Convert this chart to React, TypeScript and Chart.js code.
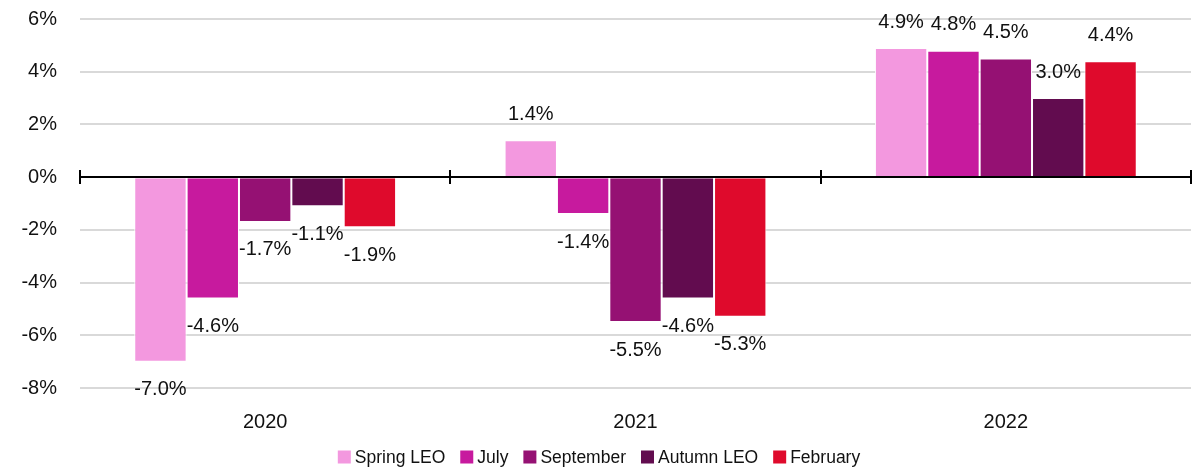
import React, { useEffect, useRef } from "react";
import { Chart, registerables } from "chart.js";

Chart.register(...registerables);

const categories = ["2020", "2021", "2022"];
const seriesNames = ["Spring LEO", "July", "September", "Autumn LEO", "February"];
const seriesColors = ["#F398DF", "#C71A9E", "#951173", "#620C4F", "#DF0A2C"];
const springLEO = [-7.0, 1.4, 4.9];
const july = [-4.6, -1.4, 4.8];
const september = [-1.7, -5.5, 4.5];
const autumnLEO = [-1.1, -4.6, 3.0];
const february = [-1.9, -5.3, 4.4];
const seriesValues = [springLEO, july, september, autumnLEO, february];
const yMin = -8;
const yMax = 6;
const yStep = 2;

const FONT = "'Liberation Sans', Arial, sans-serif";

const zeroLinePlugin = {
  id: "zeroLine",
  afterDatasetsDraw(chart: any) {
    const { ctx, chartArea, scales } = chart;
    const y = Math.round(scales.y.getPixelForValue(0));
    ctx.save();
    ctx.strokeStyle = "#000000";
    ctx.lineWidth = 2;
    ctx.beginPath();
    ctx.moveTo(chartArea.left, y);
    ctx.lineTo(chartArea.right, y);
    const n = categories.length;
    const w = (chartArea.right - chartArea.left) / n;
    for (let i = 0; i <= n; i++) {
      const x = Math.round(chartArea.left + i * w);
      ctx.moveTo(x, y - 7);
      ctx.lineTo(x, y + 7);
    }
    ctx.stroke();
    ctx.restore();
  },
};

const dataLabelPlugin = {
  id: "dataLabels",
  afterDatasetsDraw(chart: any) {
    const { ctx } = chart;
    ctx.save();
    ctx.font = `20px ${FONT}`;
    ctx.fillStyle = "#111111";
    ctx.textAlign = "center";
    ctx.textBaseline = "middle";
    chart.data.datasets.forEach((ds: any, di: number) => {
      const meta = chart.getDatasetMeta(di);
      meta.data.forEach((el: any, i: number) => {
        const v = ds.data[i];
        const ty = v >= 0 ? el.y - 26 : el.y + 28;
        ctx.fillText(v.toFixed(1) + "%", el.x, ty);
      });
    });
    ctx.restore();
  },
};

const legendPlugin = {
  id: "customLegend",
  afterDraw(chart: any) {
    const { ctx, width } = chart;
    ctx.save();
    ctx.font = `17.5px ${FONT}`;
    ctx.textBaseline = "middle";
    ctx.textAlign = "left";
    const box = 13;
    const gapBox = 4;
    const gapItem = 15;
    const widths = seriesNames.map((s) => ctx.measureText(s).width);
    const total =
      widths.reduce((a, b) => a + b, 0) + seriesNames.length * (box + gapBox) + (seriesNames.length - 1) * gapItem;
    let x = width / 2 - total / 2;
    const yc = 457;
    seriesNames.forEach((s, i) => {
      ctx.fillStyle = seriesColors[i];
      ctx.fillRect(x, yc - box / 2, box, box);
      x += box + gapBox;
      ctx.fillStyle = "#111111";
      ctx.fillText(s, x, yc + 1);
      x += widths[i] + gapItem;
    });
    ctx.restore();
  },
};

export default function App() {
  const ref = useRef<HTMLCanvasElement>(null);
  useEffect(() => {
    document.body.style.margin = "0";
    const chart = new Chart(ref.current!, {
      type: "bar",
      data: {
        labels: categories,
        datasets: seriesNames.map((name, i) => ({
          label: name,
          data: seriesValues[i],
          backgroundColor: seriesColors[i],
          borderColor: "#ffffff",
          borderWidth: 1,
          barPercentage: 1,
          categoryPercentage: 0.707,
        })),
      },
      options: {
        animation: false,
        responsive: false,
        layout: { padding: { left: 0, right: 7, top: 19, bottom: 0 } },
        plugins: { legend: { display: false }, tooltip: { enabled: false } },
        scales: {
          x: {
            grid: { display: false, drawTicks: false },
            border: { display: false },
            ticks: { color: "#111111", font: { family: FONT, size: 20 }, padding: 22 },
            afterFit: (s: any) => {
              s.height = 83;
            },
          },
          y: {
            min: yMin,
            max: yMax,
            grid: {
              color: "#d9d9d9",
              lineWidth: 2,
              drawTicks: true,
              tickLength: 20,
              tickColor: "rgba(0,0,0,0)",
            },
            border: { display: false },
            ticks: {
              stepSize: yStep,
              color: "#111111",
              font: { family: FONT, size: 20 },
              padding: 3,
              callback: (v: any) => v + "%",
            },
            afterFit: (s: any) => {
              s.width = 80;
            },
          },
        },
      },
      plugins: [zeroLinePlugin, dataLabelPlugin, legendPlugin],
    });
    return () => chart.destroy();
  }, []);
  return (
    <div style={{ width: 1198, height: 471 }}>
      <canvas ref={ref} width={1198} height={471} />
    </div>
  );
}
